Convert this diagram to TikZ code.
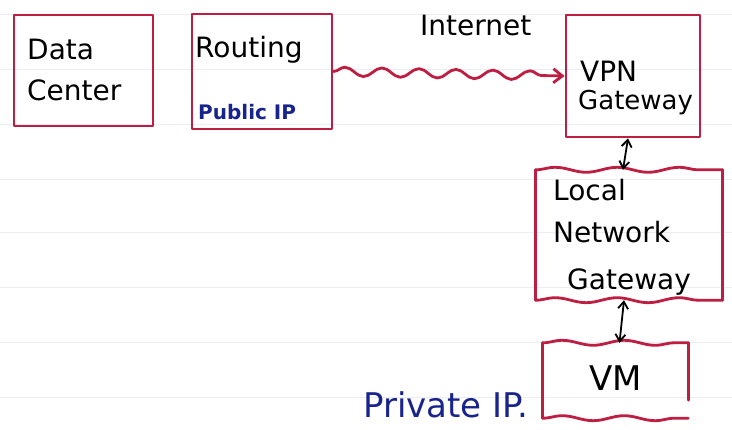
\documentclass[tikz,border=0pt]{standalone}
\usepackage{fontspec}
\setmainfont{DejaVu Sans}
\usetikzlibrary{decorations.pathmorphing,arrows.meta}
\definecolor{pen}{RGB}{190,30,65}
\definecolor{ink}{RGB}{25,35,140}
\definecolor{rule}{RGB}{236,238,243}
\tikzset{
  x=1pt,y=-1pt,
  redline/.style={draw=pen,line width=2.8pt,line cap=round,line join=round},
  wavy/.style={redline,decorate,decoration={snake,amplitude=2.5pt,segment length=62pt}},
  hand/.style={font=\fontsize{#1}{#1}\selectfont,text=black,inner sep=0pt,anchor=west},
  hand/.default=28,
  blue/.style={font=\fontsize{#1}{#1}\selectfont,text=ink,inner sep=0pt,anchor=west},
  twohead/.style={draw=black,line width=1.8pt,line cap=round,{Straight Barb[length=7pt,width=10pt,line width=1.8pt]}-{Straight Barb[length=7pt,width=10pt,line width=1.8pt]}}
}
\begin{document}
\begin{tikzpicture}
\useasboundingbox (0,0) rectangle (732,430);
\fill[white] (0,0) rectangle (732,430);
% faint ruled lines
\foreach \yy in {15,70,125,180,233,288,343,398}
  \draw[rule,line width=1pt] (0,\yy) -- (732,\yy);

% Data Center box
\node[redline,draw,inner sep=0pt,minimum width=139pt,minimum height=111pt] (dc) at (83.5,70.5) {};
\node[hand] (dct1) at (27,49) {Data};
\node[hand] (dct2) at (27,90) {Center};

% Routing box
\node[redline,draw,inner sep=0pt,minimum width=140pt,minimum height=115pt] (rt) at (262,71.5) {};
\node[hand] (rtt) at (195,50) {Routing};
\node[blue=20,font=\fontsize{20}{20}\selectfont\bfseries] (pub) at (198,112) {Public IP};

% Internet label
\node[hand] (inet) at (420,25) {Internet};

% VPN Gateway box
\node[redline,draw,inner sep=0pt,minimum width=134pt,minimum height=122pt] (vpn) at (633,76) {};
\node[hand] (vpnt1) at (580,71) {VPN};
\node[hand=26] (vpnt2) at (578,103) {Gateway};

% wavy internet link
\draw[redline,decorate,decoration={snake,amplitude=4.5pt,segment length=37pt,post length=10pt},
      -{Straight Barb[length=9pt,width=14pt,line width=2.8pt]}] (rt.east) -- (vpn.west);

% Local Network Gateway box (wavy top and bottom)
\node[inner sep=0pt,minimum width=186pt,minimum height=130pt] (lng) at (629,235) {};
\draw[redline] (lng.north west) -- (lng.south west);
\draw[redline] (lng.north east) -- (lng.south east);
\draw[wavy] (lng.north west) -- (lng.north east);
\draw[wavy] (lng.south west) -- (lng.south east);
\node[hand] (lngt1) at (553,190) {Local};
\node[hand] (lngt2) at (553,232) {Network};
\node[hand] (lngt3) at (567,282) {Gateway};

% VM box (wavy top and bottom)
\node[inner sep=0pt,minimum width=145pt,minimum height=75pt] (vm) at (615.5,380.5) {};
\draw[redline] (vm.north west) -- (vm.south west);
\draw[redline] (vm.north east) -- ([yshift=18pt]vm.south east);
\draw[wavy] (vm.north west) -- (vm.north east);
\draw[wavy] (vm.south west) -- (vm.south east);
\node[hand=34] (vmt) at (589,378) {VM};
\node[blue=34] (priv) at (363,405) {Private IP.};

% two-headed connectors
\draw[twohead] ([xshift=-5pt]vpn.south) -- ([xshift=-6pt]lng.north);
\draw[twohead] ([xshift=-5pt]lng.south) -- ([xshift=4pt]vm.north);
\end{tikzpicture}
\end{document}
